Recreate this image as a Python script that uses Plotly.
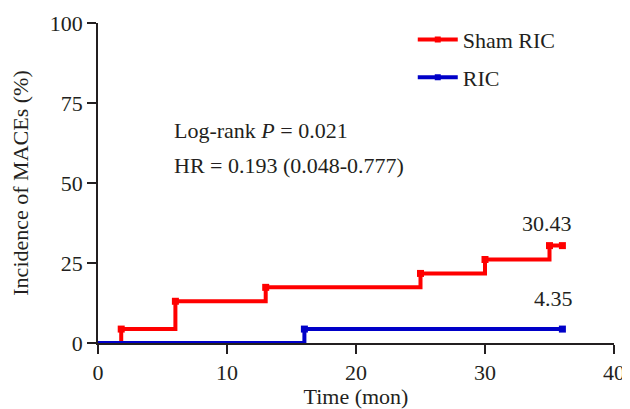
import plotly.graph_objects as go

# Data (Kaplan-Meier cumulative incidence, %)
sham_t = [0, 1.8, 6, 13, 25, 30, 35, 36]
sham_y = [0, 4.35, 13.04, 17.39, 21.74, 26.09, 30.43, 30.43]
ric_t = [0, 16, 36]
ric_y = [0, 4.35, 4.35]

sham_mark_t = [1.8, 6, 13, 25, 30, 35, 36]
sham_mark_y = [4.35, 13.04, 17.39, 21.74, 26.09, 30.43, 30.43]
ric_mark_t = [16, 36]
ric_mark_y = [4.35, 4.35]

x_ticks = [0, 10, 20, 30, 40]
y_ticks = [0, 25, 50, 75, 100]

RED = "#FF0000"
BLUE = "#0000C8"
TXT = "#231F20"
FONT = "Liberation Serif"
FS = 22

fig = go.Figure()
fig.add_trace(go.Scatter(x=sham_t, y=sham_y, mode="lines", line=dict(color=RED, width=4, shape="hv"),
                         name="Sham RIC", legendgroup="s", showlegend=False))
fig.add_trace(go.Scatter(x=sham_mark_t, y=sham_mark_y, mode="markers", marker=dict(color=RED, symbol="square", size=7),
                         legendgroup="s", showlegend=False, cliponaxis=False))
fig.add_trace(go.Scatter(x=ric_t, y=ric_y, mode="lines", line=dict(color=BLUE, width=4, shape="hv"),
                         name="RIC", legendgroup="r", showlegend=False))
fig.add_trace(go.Scatter(x=ric_mark_t, y=ric_mark_y, mode="markers", marker=dict(color=BLUE, symbol="square", size=7),
                         legendgroup="r", showlegend=False, cliponaxis=False))
# legend entries
fig.add_trace(go.Scatter(x=[None], y=[None], mode="lines+markers", name="Sham RIC", legendgroup="s",
                         line=dict(color=RED, width=4), marker=dict(color=RED, symbol="square", size=6)))
fig.add_trace(go.Scatter(x=[None], y=[None], mode="lines+markers", name="RIC", legendgroup="r",
                         line=dict(color=BLUE, width=4), marker=dict(color=BLUE, symbol="square", size=6)))

fig.add_annotation(x=5.7, y=66.4, xref="x", yref="y", xanchor="left", text="Log-rank <i>P</i> = 0.021",
                   showarrow=False, font=dict(family=FONT, size=FS, color=TXT))
fig.add_annotation(x=5.7, y=55.5, xref="x", yref="y", xanchor="left", text="HR = 0.193 (0.048-0.777)",
                   showarrow=False, font=dict(family=FONT, size=FS, color=TXT))
fig.add_annotation(x=34.8, y=37.4, xref="x", yref="y", text="30.43", showarrow=False,
                   font=dict(family=FONT, size=FS, color=TXT))
fig.add_annotation(x=35.3, y=14.0, xref="x", yref="y", text="4.35", showarrow=False,
                   font=dict(family=FONT, size=FS, color=TXT))

axis_common = dict(showgrid=False, zeroline=False, showline=True, linecolor=TXT, linewidth=1.5,
                   ticks="outside", ticklen=9, tickwidth=1.5, tickcolor=TXT, automargin=False,
                   layer="below traces",
                   tickfont=dict(family=FONT, size=FS, color=TXT))

# the page has an 8px default body margin, so the figure is sized to fit within the window
fig.update_layout(
    width=622, height=401,
    margin=dict(l=90, r=16, t=14, b=66),
    plot_bgcolor="white", paper_bgcolor="white",
    xaxis=dict(range=[0, 40], tickvals=x_ticks,
               title=dict(text="Time (mon)", font=dict(family=FONT, size=FS, color=TXT), standoff=3),
               **axis_common),
    yaxis=dict(range=[0, 100], tickvals=y_ticks,
               title=dict(text="Incidence of MACEs (%)", font=dict(family=FONT, size=FS, color=TXT), standoff=17),
               **axis_common),
    legend=dict(x=0.61, y=1.01, xanchor="left", yanchor="top", traceorder="grouped",
                font=dict(family=FONT, size=FS, color=TXT), tracegroupgap=6,
                bgcolor="rgba(0,0,0,0)", itemwidth=40),
    showlegend=True,
)

fig.write_html("out.html")
